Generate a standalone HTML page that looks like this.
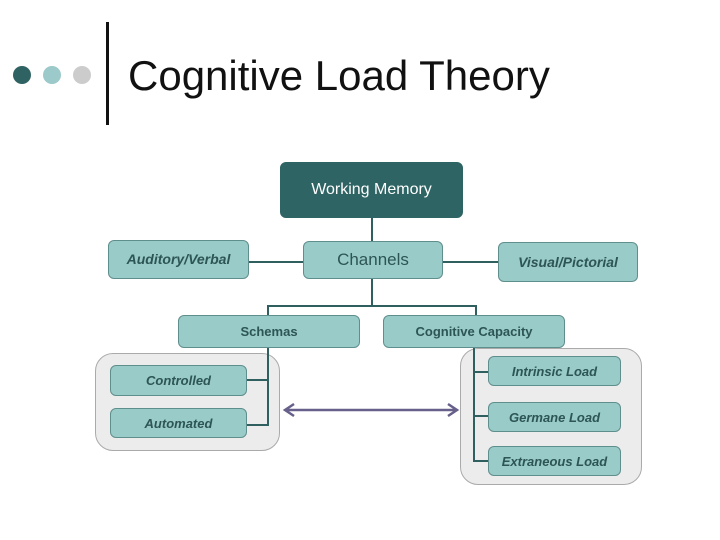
<!DOCTYPE html><html><head><style>
body{margin:0;width:720px;height:540px;background:#fff;position:relative;overflow:hidden;font-family:"Liberation Sans",sans-serif}
.b{position:absolute;box-sizing:border-box;background:#99cbc9;border:1px solid #5f8f8d;border-radius:6px;display:flex;align-items:center;justify-content:center;color:#2d5555;font-size:13px;font-weight:bold}
.i{font-style:italic}
.g{position:absolute;background:#ececec;border:1px solid #aaa;border-radius:18px;box-sizing:border-box}
.d{position:absolute;width:18px;height:18px;border-radius:50%;top:66px}
</style></head><body>
<div class="d" style="left:13px;background:#2f6262"></div>
<div class="d" style="left:43px;background:#9cc9c9"></div>
<div class="d" style="left:73px;background:#cccccc"></div>
<div style="position:absolute;left:106px;top:22px;width:3px;height:103px;background:#111"></div>
<div style="position:absolute;left:128px;top:52px;font-size:42px;color:#111">Cognitive Load Theory</div>
<div class="g" style="left:95px;top:353px;width:185px;height:98px"></div>
<div class="g" style="left:460px;top:348px;width:182px;height:137px"></div>
<svg style="position:absolute;left:0;top:0" width="720" height="540">
<g stroke="#2f5f5f" stroke-width="2" fill="none">
<path d="M372 218V241M372 279V306M268 315V306H476V315M249 262H303M443 262H498"/>
<path d="M268 348V425H247M268 380H247M474 348V461H488M474 372H488M474 416H488"/>
</g>
<g stroke="#66608a" stroke-width="2.5" fill="none"><path d="M286 410H456M294 404L285 410L294 416M448 404L457 410L448 416"/></g>
</svg>
<div class="b" style="left:280px;top:162px;width:183px;height:56px;background:#2f6464;border-color:#2f6464;color:#fff;font-size:16px;font-weight:normal">Working Memory</div>
<div class="b i" style="left:108px;top:240px;width:141px;height:39px;font-size:14px;padding-bottom:2px">Auditory/Verbal</div>
<div class="b" style="left:303px;top:241px;width:140px;height:38px;font-size:17px;font-weight:normal">Channels</div>
<div class="b i" style="left:498px;top:242px;width:140px;height:40px;font-size:14px">Visual/Pictorial</div>
<div class="b" style="left:178px;top:315px;width:182px;height:33px">Schemas</div>
<div class="b" style="left:383px;top:315px;width:182px;height:33px">Cognitive Capacity</div>
<div class="b i" style="left:110px;top:365px;width:137px;height:31px">Controlled</div>
<div class="b i" style="left:110px;top:408px;width:137px;height:30px">Automated</div>
<div class="b i" style="left:488px;top:356px;width:133px;height:30px">Intrinsic Load</div>
<div class="b i" style="left:488px;top:402px;width:133px;height:30px">Germane Load</div>
<div class="b i" style="left:488px;top:446px;width:133px;height:30px">Extraneous Load</div>
</body></html>
